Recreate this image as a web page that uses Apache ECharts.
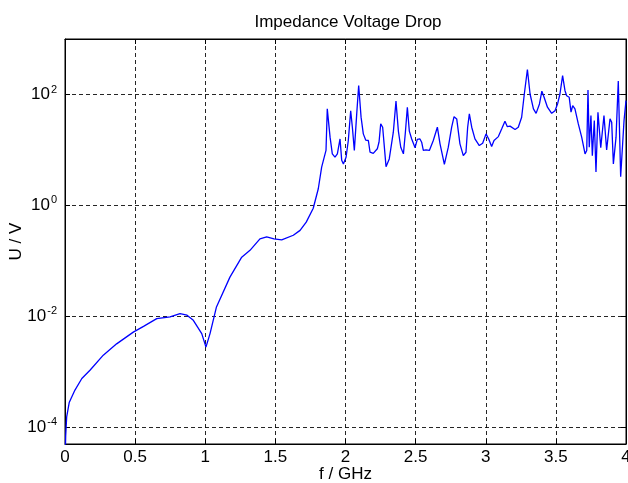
<!DOCTYPE html>
<html>
<head>
<meta charset="utf-8">
<script src="https://cdn.jsdelivr.net/npm/echarts@6/dist/echarts.min.js"></script>
<style>
    html, body { margin: 0; padding: 0; background: #fff; }
    #chart { width: 628px; height: 483px; }
</style>
</head>
<body>
<div id="chart"></div>
<script>
// frequency in GHz
var freq = [
    0, 0.005, 0.012, 0.03, 0.071, 0.12, 0.178, 0.273, 0.368, 0.487,
    0.56, 0.654, 0.749, 0.82, 0.87, 0.915, 0.975, 1.005, 1.034, 1.08,
    1.176, 1.26, 1.319, 1.39, 1.438, 1.49, 1.545, 1.628, 1.676, 1.72,
    1.77, 1.806, 1.83, 1.847, 1.861, 1.87, 1.89, 1.906, 1.925, 1.942,
    1.961, 1.973, 1.985, 2.004, 2.02, 2.037, 2.049, 2.063, 2.08, 2.094,
    2.111, 2.127, 2.144, 2.163, 2.175, 2.198, 2.227, 2.239, 2.251, 2.265,
    2.289, 2.312, 2.341, 2.36, 2.377, 2.394, 2.413, 2.427, 2.441, 2.455,
    2.472, 2.496, 2.512, 2.531, 2.543, 2.555, 2.574, 2.598, 2.626, 2.655,
    2.674, 2.705, 2.733, 2.757, 2.774, 2.793, 2.816, 2.84, 2.859, 2.871,
    2.883, 2.9, 2.923, 2.954, 2.978, 3.002, 3.021, 3.042, 3.059, 3.09,
    3.114, 3.137, 3.154, 3.173, 3.209, 3.232, 3.256, 3.275, 3.297, 3.316,
    3.34, 3.359, 3.383, 3.4, 3.416, 3.44, 3.47, 3.494, 3.513, 3.529,
    3.548, 3.565, 3.577, 3.595, 3.608, 3.62, 3.636, 3.66, 3.684, 3.708,
    3.72, 3.729, 3.738, 3.75, 3.76, 3.774, 3.786, 3.8, 3.82, 3.834,
    3.843, 3.862, 3.886, 3.898, 3.91, 3.929, 3.945, 3.962, 3.986, 4.0
];
// voltage drop in V
var voltage = [
    2.0e-5, 7.1e-5, 1.55e-4, 2.8e-4, 4.7e-4, 7.6e-4, 1.07e-3, 2.0e-3, 3.2e-3, 5.2e-3,
    6.6e-3, 9.1e-3, 9.8e-3, 0.0112, 0.0105, 8.5e-3, 4.9e-3, 2.8e-3, 4.9e-3, 0.0148,
    0.051, 0.117, 0.155, 0.25, 0.27, 0.25, 0.24, 0.29, 0.355, 0.50,
    0.89, 2.0, 4.9, 7.2, 9.8, 55, 17, 8.5, 7.4, 8.5,
    15.8, 6.5, 5.6, 7.4, 14.8, 51, 25.7, 9.8, 44.7, 145,
    39, 19.5, 15.1, 14.8, 9.1, 8.7, 10.5, 13.8, 29.5, 25.7,
    5.0, 6.9, 20.9, 76, 21.9, 11.2, 8.5, 20.9, 59, 21.9,
    15.8, 11.0, 15.5, 15.8, 13.8, 9.8, 10, 9.8, 14.8, 25.7,
    12.9, 5.5, 11.2, 25.7, 39.8, 36.3, 12.9, 7.9, 9.1, 25.7,
    44.7, 25.7, 15.8, 12.0, 13.2, 19.5, 15.8, 11.5, 14.8, 17.4,
    24, 33, 26.3, 26.9, 23.4, 25.7, 38.9, 102, 282, 102,
    55, 45.7, 67.6, 115, 89, 59, 45.7, 51, 69, 102,
    219, 117, 95, 89, 48, 63, 55, 29.5, 17, 8.5,
    9.8, 120, 11.2, 41.7, 7.9, 33.9, 4.0, 47.9, 11, 11.5,
    41.7, 10, 36.3, 31.6, 5.6, 17, 174, 3.3, 33.9, 77.6
];
var xTicks = [0, 0.5, 1, 1.5, 2, 2.5, 3, 3.5, 4];
var yDecades = [-4, -2, 0, 2];   // exponents that get a label
var yMinExp = -4.3;
var yMaxExp = 3;

// log10 of the voltage, drawn on a linear axis whose labels read 10^n
var seriesData = [];
for (let i = 0; i < freq.length; i++) {
    seriesData.push([freq[i], Math.log10(voltage[i])]);
}

function yLabel(v) {
    let r = Math.round(v);
    if (Math.abs(v - r) > 1e-6 || yDecades.indexOf(r) < 0) {
        return "";
    }
    return "10{sup|" + r + "}";
}

function xLabel(v) {
    for (let i = 0; i < xTicks.length; i++) {
        if (Math.abs(xTicks[i] - v) < 1e-9) {
            return String(xTicks[i]);
        }
    }
    return "";
}

var font = "'Liberation Sans', Arial, Helvetica, sans-serif";
var gridLine = {
    show: true,
    lineStyle: {color: '#000', width: 1, type: [4, 3], opacity: 0.85}
};
var tick = {show: true, inside: true, length: 5, lineStyle: {color: '#000'}};
var frameLine = {show: true, onZero: false, lineStyle: {color: '#000'}};

var myChart = echarts.init(document.getElementById('chart'), null, {renderer: 'canvas'});
var option = {
    animation: false,
    backgroundColor: '#fff',
    title: {
        text: 'Impedance Voltage Drop',
        left: 343,
        top: 9,
        textAlign: 'center',
        textStyle: {fontFamily: font, fontSize: 17, fontWeight: 'normal', color: '#000'}
    },
    grid: {
        left: 65, right: 2, top: 39, bottom: 39,
        outerBoundsMode: 'none',
        containLabel: false,
        show: true, borderColor: '#000', borderWidth: 1, backgroundColor: '#fff'
    },
    xAxis: [{
        type: 'value',
        min: 0, max: 4, interval: 0.5,
        position: 'bottom',
        name: 'f / GHz',
        nameLocation: 'middle',
        nameGap: 22,
        nameMoveOverlap: false,
        nameTextStyle: {fontFamily: font, fontSize: 17, color: '#000'},
        axisLine: frameLine,
        axisTick: tick,
        axisLabel: {formatter: xLabel, fontFamily: font, fontSize: 17, color: '#000', margin: 5, hideOverlap: false},
        splitLine: gridLine
    }, {
        type: 'value',
        min: 0, max: 4, interval: 0.5,
        position: 'top',
        axisLine: frameLine,
        axisTick: tick,
        axisLabel: {show: false},
        splitLine: {show: false}
    }],
    yAxis: [{
        type: 'value',
        min: yMinExp, max: yMaxExp,
        splitNumber: 3,
        position: 'left',
        name: 'U / V',
        nameLocation: 'middle',
        nameGap: 40,
        nameMoveOverlap: false,
        nameRotate: 90,
        nameTextStyle: {fontFamily: font, fontSize: 17, color: '#000'},
        axisLine: frameLine,
        axisTick: tick,
        axisLabel: {
            formatter: yLabel, fontFamily: font, fontSize: 17, color: '#000', margin: 8,
            showMinLabel: true, showMaxLabel: true,
            rich: {sup: {fontFamily: font, fontSize: 11, color: '#000', verticalAlign: 'top', padding: [0, 0, 10, 1]}}
        },
        splitLine: gridLine
    }, {
        type: 'value',
        min: yMinExp, max: yMaxExp,
        splitNumber: 3,
        position: 'right',
        axisLine: frameLine,
        axisTick: tick,
        axisLabel: {show: false},
        splitLine: {show: false}
    }],
    series: [{
        name: 'U',
        type: 'line',
        xAxisIndex: 0,
        yAxisIndex: 0,
        data: seriesData,
        showSymbol: false,
        symbol: 'none',
        clip: true,
        lineStyle: {color: '#0000ff', width: 1.3},
        z: 3
    }]
};
myChart.setOption(option);
</script>
</body>
</html>
